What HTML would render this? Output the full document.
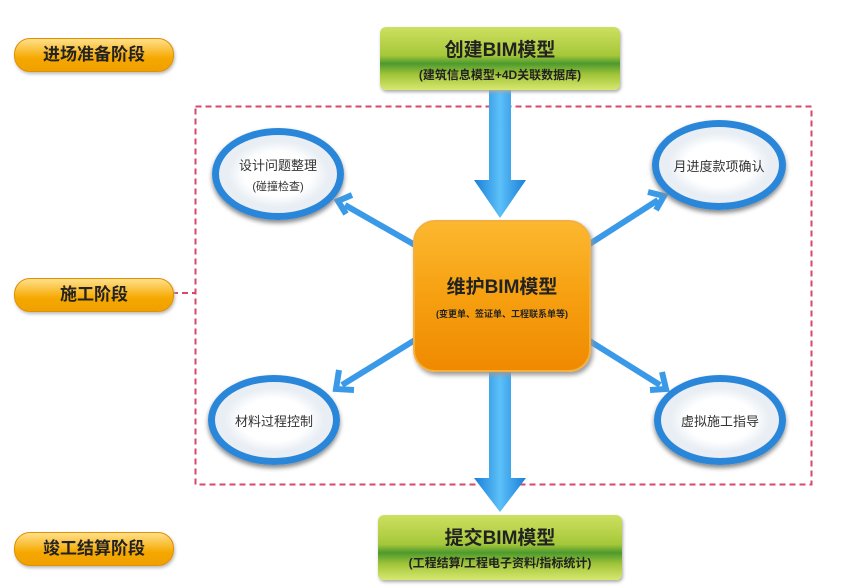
<!DOCTYPE html>
<html><head><meta charset="utf-8"><style>
body{margin:0;width:868px;height:588px;background:#fff;overflow:hidden;font-family:"Liberation Sans","Noto Sans CJK SC",sans-serif;position:relative}
.pill{position:absolute;left:14px;width:158px;height:32px;border-radius:16px;background:linear-gradient(#ffe08a,#f6a800 60%,#f0a000);border:1px solid #e09000;box-shadow:1px 2px 3px #bbb;font-weight:bold;font-size:17px;line-height:32px;text-align:center;color:#222}
.gbox{position:absolute;border-radius:6px;background:linear-gradient(#cde060,#a6c83a 45%,#4d9a2e 58%,#a0c438 75%,#d8e870);text-align:center;color:#222;box-shadow:1px 2px 3px #aaa}
.ell{position:absolute;border-radius:50%;background:radial-gradient(#fff 40%,#e8eef4 60%);border:7px solid #2a86d8;box-shadow:0 3px 5px #888;text-align:center;color:#333;font-size:13px;display:flex;flex-direction:column;justify-content:center}
</style></head><body>
<svg width="868" height="588" style="position:absolute;left:0;top:0">
<rect x="195.5" y="106.5" width="616" height="378" fill="none" stroke="#d84868" stroke-width="2" stroke-dasharray="6,4"/>
<line x1="172" y1="293" x2="195" y2="293" stroke="#d84868" stroke-width="2" stroke-dasharray="6,4"/>
</svg>
<div class="pill" style="top:38px">进场准备阶段</div>
<div class="pill" style="top:278px">施工阶段</div>
<div class="pill" style="top:532px">竣工结算阶段</div>
<svg width="868" height="588" style="position:absolute;left:0;top:0">
<defs><linearGradient id="b" x1="0" x2="1"><stop offset="0" stop-color="#1a7fd8"/><stop offset=".5" stop-color="#5cc0f8"/><stop offset="1" stop-color="#1a7fd8"/></linearGradient></defs>
<polygon points="489,90 511,90 511,180 526,180 500,218 474,180 489,180" fill="url(#b)"/>
<polygon points="489,368 511,368 511,478 526,478 500,512 474,478 489,478" fill="url(#b)"/>
<g stroke="#3a9ae8" stroke-width="6" fill="none" stroke-linejoin="miter">
<line x1="415" y1="245" x2="345" y2="205"/><polyline points="352,195 338,201 346,214"/>
<line x1="588" y1="245" x2="658" y2="200"/><polyline points="648,192 664,196 656,210"/>
<line x1="415" y1="340" x2="342" y2="385"/><polyline points="339,370 336,389 354,390"/>
<line x1="588" y1="340" x2="660" y2="385"/><polyline points="650,390 666,389 662,372"/>
</g>
</svg>
<div class="gbox" style="left:380px;top:27px;width:240px;height:63px"><div style="font-size:19px;margin-top:8px;font-weight:bold">创建BIM模型</div><div style="font-size:12px;font-weight:bold;margin-top:4px">(建筑信息模型+4D关联数据库)</div></div>
<div class="gbox" style="left:378px;top:515px;width:244px;height:65px"><div style="font-size:19px;margin-top:8px;font-weight:bold">提交BIM模型</div><div style="font-size:12px;font-weight:bold;margin-top:4px">(工程结算/工程电子资料/指标统计)</div></div>
<div style="position:absolute;left:413px;top:220px;width:174px;height:148px;border-radius:22px;background:linear-gradient(#fcb830,#f6a010 50%,#f08a00);border:2px solid #f3b040;box-shadow:2px 3px 5px #999;text-align:center;color:#222">
<div style="font-size:19px;margin-top:50px;font-weight:bold">维护BIM模型</div><div style="font-size:9px;font-weight:bold;margin-top:8px">(变更单、签证单、工程联系单等)</div></div>
<div class="ell" style="left:212px;top:128px;width:118px;height:78px"><div>设计问题整理</div><div style="font-size:11px;margin-top:4px">(碰撞检查)</div></div>
<div class="ell" style="left:652px;top:120px;width:120px;height:76px"><div>月进度款项确认</div></div>
<div class="ell" style="left:208px;top:375px;width:118px;height:76px"><div>材料过程控制</div></div>
<div class="ell" style="left:654px;top:375px;width:118px;height:76px"><div>虚拟施工指导</div></div>
</body></html>
